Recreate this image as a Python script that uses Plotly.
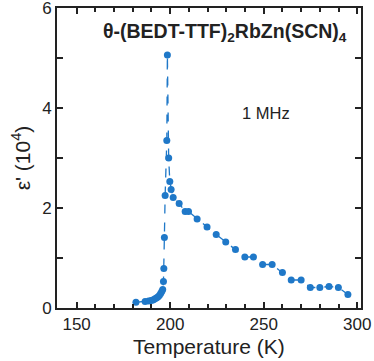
import plotly.graph_objects as go

# temperature (K) and epsilon' (10^4)
temperature = [181.7, 186.6, 188.5, 189.8, 190.8, 191.7, 192.6, 193.4, 194.2, 194.9, 195.5, 196.0,
               196.4, 196.6, 196.9, 197.3, 198.2, 198.5, 199.2, 199.8, 200.5, 201.6, 204.8,
               208.0, 209.8, 214.4, 219.7, 224.6, 229.7, 234.9, 239.9, 244.5, 249.4, 254.5,
               260.0, 264.7, 270.0, 274.9, 280.0, 284.9, 289.9, 295.0]
eps_real = [0.113, 0.13, 0.14, 0.15, 0.16, 0.18, 0.2, 0.22, 0.25, 0.29, 0.33, 0.37,
            0.53, 0.79, 1.41, 2.25, 3.35, 5.06, 3.0, 2.53, 2.37, 2.21, 2.09,
            1.93, 1.93, 1.78, 1.62, 1.47, 1.32, 1.17, 1.02, 1.02, 0.87, 0.87,
            0.71, 0.56, 0.56, 0.41, 0.41, 0.43, 0.41, 0.27]

blue = '#1f78c8'

fig = go.Figure()
fig.add_trace(go.Scatter(
    x=temperature,
    y=eps_real,
    mode='lines+markers',
    line=dict(color=blue, width=1.3, dash='dash'),
    marker=dict(color=blue, size=7),
    showlegend=False
))

font = 'Liberation Sans, Arial, sans-serif'
fig.update_layout(
    width=374, height=361,
    margin=dict(l=57, r=13, t=8, b=53),
    plot_bgcolor='white', paper_bgcolor='white',
    font=dict(family=font, color='#222222', size=16),
)
fig.update_xaxes(
    range=[139.5, 302], tickvals=[150, 200, 250, 300],
    ticks='inside', ticklen=6, tickwidth=1.5, tickcolor='#222222',
    minor=dict(dtick=10, tick0=0, ticks='inside', ticklen=4, tickwidth=1.5, tickcolor='#222222'),
    showline=True, linewidth=2, linecolor='#222222', mirror='allticks',
    showgrid=False, zeroline=False, automargin=False, ticklabeloverflow='allow',
    tickfont=dict(size=17),
)
fig.update_yaxes(
    range=[0, 6], tickvals=[0, 2, 4, 6],
    ticks='inside', ticklen=6, tickwidth=1.5, tickcolor='#222222',
    minor=dict(dtick=1, ticks='inside', ticklen=6, tickwidth=1.5, tickcolor='#222222'),
    showline=True, linewidth=2, linecolor='#222222', mirror='allticks',
    showgrid=False, zeroline=False, automargin=False, ticklabeloverflow='allow',
    tickfont=dict(size=17),
    title=dict(text="ε' (10<sup>4</sup>)", font=dict(size=21), standoff=6),
)

# x axis title placed by hand so it sits where it does in the original
fig.add_annotation(
    x=0.5, y=-0.128, xref='paper', yref='paper', xanchor='center', yanchor='middle',
    text='Temperature (K)', showarrow=False, font=dict(size=21, color='#222222'),
)
fig.add_annotation(
    x=0.553, y=0.917, xref='paper', yref='paper', xanchor='center', yanchor='middle',
    text='<b>θ-(BEDT-TTF)<sub>2</sub>RbZn(SCN)<sub>4</sub></b>',
    showarrow=False, font=dict(size=19.5, color='#222222'),
)
fig.add_annotation(
    x=0.688, y=0.65, xref='paper', yref='paper', xanchor='center', yanchor='middle',
    text='1 MHz', showarrow=False, font=dict(size=16.5, color='#222222'),
)

# page has a default 8px body margin; drop it so the figure sits at the top-left
fig.write_html("out.html", config={'displayModeBar': False},
               post_script="document.body.style.margin='0';")
